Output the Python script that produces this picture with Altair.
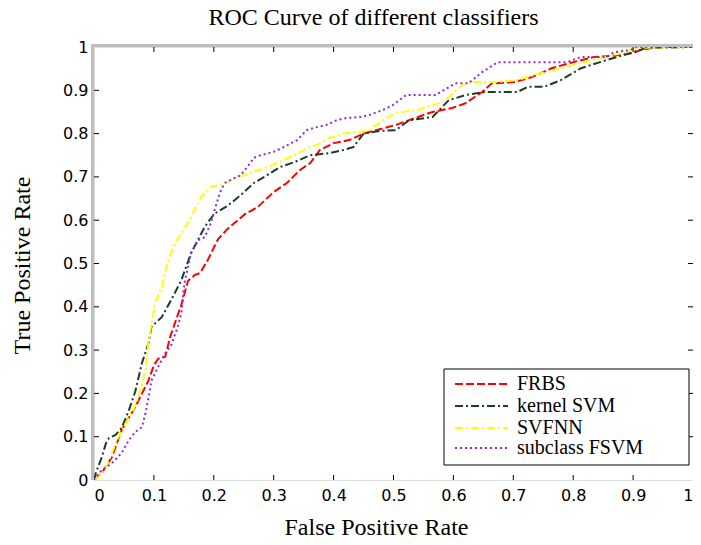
import altair as alt
import pandas as pd

series_names = ["FRBS", "kernel SVM", "SVFNN", "subclass FSVM"]
series_colors = ["#ff0000", "#1b3d2b", "#ffff00", "#8a2be2"]
series_dashes = [[8, 3], [8, 3, 2, 3], [8, 3, 2, 3], [2, 3]]

frbs_x = [0, 0.013, 0.03, 0.046, 0.069, 0.091, 0.1, 0.107, 0.119, 0.127, 0.137, 0.146, 0.157, 0.168, 0.177,
          0.19, 0.207, 0.223, 0.24, 0.253, 0.273, 0.30, 0.322, 0.344, 0.361, 0.377, 0.40, 0.426, 0.45, 0.471,
          0.504, 0.526, 0.565, 0.598, 0.62, 0.648, 0.664, 0.702, 0.73, 0.764, 0.80, 0.835, 0.868, 0.90,
          0.912, 0.94, 1.0]
frbs_y = [0, 0.016, 0.053, 0.115, 0.169, 0.23, 0.265, 0.28, 0.285, 0.33, 0.37, 0.405, 0.46, 0.473, 0.478,
          0.508, 0.556, 0.58, 0.60, 0.615, 0.63, 0.665, 0.686, 0.716, 0.732, 0.762, 0.778, 0.785, 0.80, 0.808,
          0.82, 0.831, 0.85, 0.859, 0.87, 0.896, 0.916, 0.919, 0.93, 0.951, 0.965, 0.977, 0.98, 0.986,
          0.993, 1.0, 1.0]

ksvm_x = [0, 0.003, 0.013, 0.02, 0.025, 0.036, 0.046, 0.058, 0.069, 0.08, 0.091, 0.096, 0.113, 0.129, 0.146,
          0.162, 0.185, 0.201, 0.223, 0.245, 0.267, 0.289, 0.311, 0.334, 0.361, 0.394, 0.416, 0.433, 0.45,
          0.476, 0.504, 0.526, 0.565, 0.592, 0.62, 0.653, 0.707, 0.724, 0.752, 0.78, 0.813, 0.856, 0.896,
          0.922, 1.0]
ksvm_y = [0, 0.016, 0.053, 0.085, 0.097, 0.104, 0.12, 0.16, 0.205, 0.27, 0.316, 0.354, 0.376, 0.416, 0.462,
          0.524, 0.585, 0.615, 0.633, 0.658, 0.686, 0.704, 0.723, 0.734, 0.75, 0.755, 0.762, 0.769, 0.80,
          0.806, 0.808, 0.831, 0.838, 0.877, 0.889, 0.896, 0.896, 0.908, 0.908, 0.924, 0.951, 0.97, 0.986,
          0.998, 1.0]

svfnn_x = [0, 0.008, 0.02, 0.03, 0.041, 0.053, 0.063, 0.074, 0.086, 0.091, 0.102, 0.113, 0.124, 0.135, 0.146,
           0.162, 0.179, 0.195, 0.218, 0.24, 0.261, 0.284, 0.306, 0.327, 0.35, 0.372, 0.393, 0.416, 0.443,
           0.46, 0.483, 0.504, 0.542, 0.582, 0.615, 0.631, 0.674, 0.707, 0.747, 0.78, 0.813, 0.851, 0.889,
           0.90, 1.0]
svfnn_y = [0, 0.007, 0.03, 0.062, 0.1, 0.131, 0.154, 0.19, 0.254, 0.32, 0.409, 0.446, 0.508, 0.547, 0.57,
           0.607, 0.654, 0.677, 0.684, 0.70, 0.709, 0.72, 0.732, 0.746, 0.762, 0.774, 0.79, 0.80, 0.804,
           0.808, 0.831, 0.848, 0.855, 0.873, 0.912, 0.919, 0.919, 0.924, 0.94, 0.951, 0.963, 0.977, 0.988,
           0.998, 1.0]

sub_x = [0, 0.003, 0.013, 0.03, 0.046, 0.058, 0.069, 0.08, 0.086, 0.091, 0.096, 0.107, 0.119, 0.129, 0.14,
         0.146, 0.149, 0.152, 0.157, 0.162, 0.174, 0.185, 0.195, 0.203, 0.21, 0.218, 0.234, 0.245, 0.256,
         0.267, 0.278, 0.30, 0.317, 0.339, 0.355, 0.372, 0.388, 0.405, 0.421, 0.443, 0.46, 0.483, 0.499,
         0.521, 0.57, 0.603, 0.625, 0.648, 0.674, 0.79, 0.813, 0.856, 0.868, 0.896, 0.906, 1.0]
sub_y = [0, 0.007, 0.023, 0.039, 0.062, 0.092, 0.111, 0.122, 0.154, 0.19, 0.23, 0.261, 0.293, 0.312, 0.354,
         0.386, 0.432, 0.462, 0.492, 0.524, 0.554, 0.561, 0.593, 0.631, 0.663, 0.686, 0.697, 0.704, 0.723,
         0.744, 0.75, 0.758, 0.769, 0.785, 0.808, 0.815, 0.82, 0.831, 0.836, 0.838, 0.843, 0.855, 0.866,
         0.889, 0.889, 0.916, 0.916, 0.942, 0.965, 0.965, 0.977, 0.977, 0.988, 0.993, 1.0, 1.0]

tick_values = [0, 0.1, 0.2, 0.3, 0.4, 0.5, 0.6, 0.7, 0.8, 0.9, 1]
inner_ticks = [0.1, 0.2, 0.3, 0.4, 0.5, 0.6, 0.7, 0.8, 0.9]

rows = []
for name, xs, ys in zip(series_names,
                        [frbs_x, ksvm_x, svfnn_x, sub_x],
                        [frbs_y, ksvm_y, svfnn_y, sub_y]):
    for i, (a, b) in enumerate(zip(xs, ys)):
        rows.append({"series": name, "fpr": a, "tpr": b, "idx": i})
df = pd.DataFrame(rows)
ticks_df = pd.DataFrame({"t": inner_ticks})
one_df = pd.DataFrame({"k": [0]})

W, H = 599, 433
serif = "Liberation Serif"
sans = "DejaVu Sans"

x_scale = alt.Scale(domain=[0, 1], nice=False, zero=False)
y_scale = alt.Scale(domain=[0, 1], nice=False, zero=False)

lines = alt.Chart(df).mark_line(strokeWidth=2, clip=True).encode(
    x=alt.X("fpr:Q", scale=x_scale,
            axis=alt.Axis(values=tick_values, format="~g", ticks=False, domain=False, grid=False,
                          labelFont=sans, labelFontSize=16, labelColor="black", labelPadding=7,
                          title="False Positive Rate", titleFont=serif, titleFontSize=24,
                          titleFontWeight="normal", titleColor="black",
                          titleX=282, titleY=54, titleBaseline="alphabetic", titleAlign="center")),
    y=alt.Y("tpr:Q", scale=y_scale,
            axis=alt.Axis(values=tick_values, format="~g", ticks=False, domain=False, grid=False,
                          labelFont=sans, labelFontSize=16, labelColor="black", labelPadding=6,
                          title="True Positive Rate", titleFont=serif, titleFontSize=24,
                          titleFontWeight="normal", titleColor="black",
                          titleX=-65, titleY=218, titleAngle=-90, titleBaseline="alphabetic",
                          titleAlign="center")),
    color=alt.Color("series:N", scale=alt.Scale(domain=series_names, range=series_colors), legend=None),
    strokeDash=alt.StrokeDash("series:N", scale=alt.Scale(domain=series_names, range=series_dashes),
                              legend=None),
    order="idx:Q",
)

tick_base = alt.Chart(ticks_df)
bottom_ticks = tick_base.mark_rule(color="black", strokeWidth=1).encode(
    x=alt.X("t:Q", scale=x_scale), y=alt.value(H), y2=alt.value(H - 5))
top_ticks = tick_base.mark_rule(color="black", strokeWidth=1).encode(
    x=alt.X("t:Q", scale=x_scale), y=alt.value(0), y2=alt.value(5))
left_ticks = tick_base.mark_rule(color="black", strokeWidth=1).encode(
    y=alt.Y("t:Q", scale=y_scale), x=alt.value(0), x2=alt.value(5))
right_ticks = tick_base.mark_rule(color="black", strokeWidth=1).encode(
    y=alt.Y("t:Q", scale=y_scale), x=alt.value(W), x2=alt.value(W - 5))

shade_left = alt.Chart(one_df).mark_rule(color="#bdbdbd", strokeWidth=3).encode(
    x=alt.value(-1.5), x2=alt.value(-1.5), y=alt.value(-3), y2=alt.value(H))
shade_top = alt.Chart(one_df).mark_rule(color="#bdbdbd", strokeWidth=3).encode(
    x=alt.value(-3), x2=alt.value(W), y=alt.value(-1.5), y2=alt.value(-1.5))

# legend box (layout decoration)
LX0, LX1, LY0, LY1 = 350, 595, 322, 418
legend_box = alt.Chart(one_df).mark_rect(fill="white", stroke="black", strokeWidth=1).encode(
    x=alt.value(LX0), x2=alt.value(LX1), y=alt.value(LY0), y2=alt.value(LY1))
legend_layers = [legend_box]
row_y = [337, 359, 381, 401]
for name, col, dash, ry in zip(series_names, series_colors, series_dashes, row_y):
    sdf = pd.DataFrame({"series": [name]})
    legend_layers.append(
        alt.Chart(sdf).mark_rule(strokeWidth=2, color=col, strokeDash=dash).encode(
            x=alt.value(361), x2=alt.value(414), y=alt.value(ry), y2=alt.value(ry)))
    legend_layers.append(
        alt.Chart(sdf).mark_text(font=serif, fontSize=20, color="black", align="left",
                                 baseline="middle").encode(
            x=alt.value(423), y=alt.value(ry), text="series:N"))

chart = alt.layer(
    shade_left, shade_top, lines, bottom_ticks, top_ticks, left_ticks, right_ticks, *legend_layers
).properties(
    width=W, height=H,
    title=alt.TitleParams("ROC Curve of different classifiers", font=serif, fontSize=24,
                          fontWeight="normal", color="black", anchor="middle", dx=-20, offset=9),
    autosize=alt.AutoSizeParams(type="none"),
    padding={"left": 86, "top": 39, "right": 0, "bottom": 57},
).configure_view(
    stroke="black", strokeWidth=1
).configure(
    background="white"
)

chart.save("out.html", embed_options={"renderer": "svg", "actions": False})
